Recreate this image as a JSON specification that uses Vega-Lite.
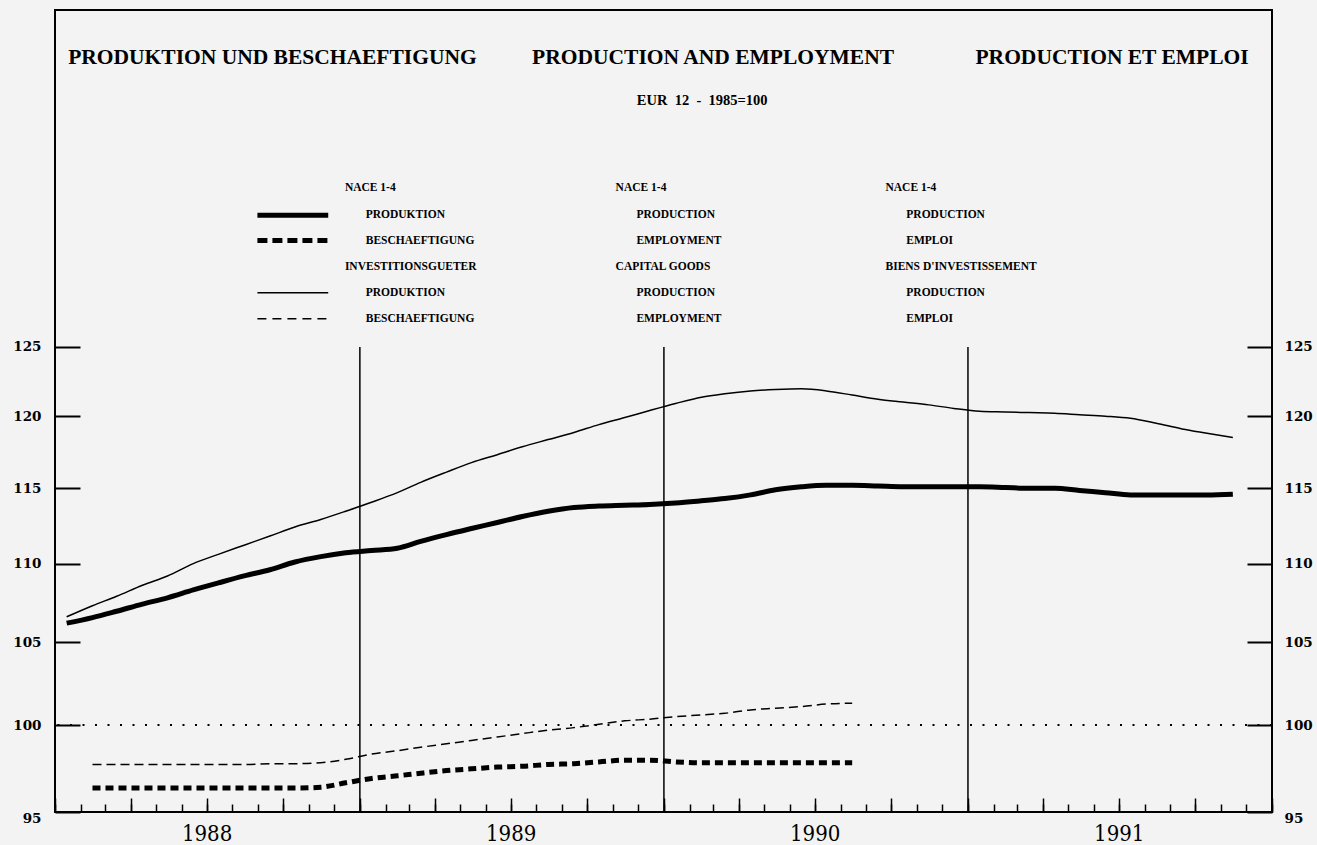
{
  "$schema": "https://vega.github.io/schema/vega-lite/v6.json",
  "autosize": {"type": "none"},
  "padding": {"left": 55, "top": 10, "right": 45, "bottom": 33},
  "width": 1217,
  "height": 802,
  "background": "#f3f3f3",
  "config": {
    "font": "Liberation Serif",
    "view": {"stroke": "black", "strokeWidth": 2},
    "axis": {"domain": false, "grid": false, "tickColor": "black", "labelColor": "black", "title": null}
  },
  "datasets": {
    "series": [
      {"date": "1988-01-15", "series": "P1", "value": 106.2},
      {"date": "1988-02-15", "series": "P1", "value": 106.55},
      {"date": "1988-03-15", "series": "P1", "value": 106.95},
      {"date": "1988-04-15", "series": "P1", "value": 107.4},
      {"date": "1988-05-15", "series": "P1", "value": 107.8},
      {"date": "1988-06-15", "series": "P1", "value": 108.3},
      {"date": "1988-07-15", "series": "P1", "value": 108.75},
      {"date": "1988-08-15", "series": "P1", "value": 109.2},
      {"date": "1988-09-15", "series": "P1", "value": 109.6},
      {"date": "1988-10-15", "series": "P1", "value": 110.1},
      {"date": "1988-11-15", "series": "P1", "value": 110.45},
      {"date": "1988-12-15", "series": "P1", "value": 110.7},
      {"date": "1989-01-15", "series": "P1", "value": 110.85},
      {"date": "1989-02-15", "series": "P1", "value": 111.0},
      {"date": "1989-03-15", "series": "P1", "value": 111.45},
      {"date": "1989-04-15", "series": "P1", "value": 111.9},
      {"date": "1989-05-15", "series": "P1", "value": 112.3},
      {"date": "1989-06-15", "series": "P1", "value": 112.7},
      {"date": "1989-07-15", "series": "P1", "value": 113.1},
      {"date": "1989-08-15", "series": "P1", "value": 113.45},
      {"date": "1989-09-15", "series": "P1", "value": 113.7},
      {"date": "1989-10-15", "series": "P1", "value": 113.8},
      {"date": "1989-11-15", "series": "P1", "value": 113.85},
      {"date": "1989-12-15", "series": "P1", "value": 113.9},
      {"date": "1990-01-15", "series": "P1", "value": 114.0},
      {"date": "1990-02-15", "series": "P1", "value": 114.15},
      {"date": "1990-03-15", "series": "P1", "value": 114.3},
      {"date": "1990-04-15", "series": "P1", "value": 114.55},
      {"date": "1990-05-15", "series": "P1", "value": 114.9},
      {"date": "1990-06-15", "series": "P1", "value": 115.1},
      {"date": "1990-07-15", "series": "P1", "value": 115.2},
      {"date": "1990-08-15", "series": "P1", "value": 115.2},
      {"date": "1990-09-15", "series": "P1", "value": 115.15},
      {"date": "1990-10-15", "series": "P1", "value": 115.1},
      {"date": "1990-11-15", "series": "P1", "value": 115.1},
      {"date": "1990-12-15", "series": "P1", "value": 115.1},
      {"date": "1991-01-15", "series": "P1", "value": 115.1},
      {"date": "1991-02-15", "series": "P1", "value": 115.05},
      {"date": "1991-03-15", "series": "P1", "value": 115.0},
      {"date": "1991-04-15", "series": "P1", "value": 115.0},
      {"date": "1991-05-15", "series": "P1", "value": 114.85},
      {"date": "1991-06-15", "series": "P1", "value": 114.7},
      {"date": "1991-07-15", "series": "P1", "value": 114.55},
      {"date": "1991-08-15", "series": "P1", "value": 114.55},
      {"date": "1991-09-15", "series": "P1", "value": 114.55},
      {"date": "1991-10-15", "series": "P1", "value": 114.55},
      {"date": "1991-11-15", "series": "P1", "value": 114.6},
      {"date": "1988-01-15", "series": "P2", "value": 106.6},
      {"date": "1988-02-15", "series": "P2", "value": 107.3},
      {"date": "1988-03-15", "series": "P2", "value": 107.9},
      {"date": "1988-04-15", "series": "P2", "value": 108.6},
      {"date": "1988-05-15", "series": "P2", "value": 109.2},
      {"date": "1988-06-15", "series": "P2", "value": 110.0},
      {"date": "1988-07-15", "series": "P2", "value": 110.6},
      {"date": "1988-08-15", "series": "P2", "value": 111.2},
      {"date": "1988-09-15", "series": "P2", "value": 111.8},
      {"date": "1988-10-15", "series": "P2", "value": 112.4},
      {"date": "1988-11-15", "series": "P2", "value": 112.9},
      {"date": "1988-12-15", "series": "P2", "value": 113.45},
      {"date": "1989-01-15", "series": "P2", "value": 114.05},
      {"date": "1989-02-15", "series": "P2", "value": 114.7},
      {"date": "1989-03-15", "series": "P2", "value": 115.4},
      {"date": "1989-04-15", "series": "P2", "value": 116.1},
      {"date": "1989-05-15", "series": "P2", "value": 116.75},
      {"date": "1989-06-15", "series": "P2", "value": 117.3},
      {"date": "1989-07-15", "series": "P2", "value": 117.85},
      {"date": "1989-08-15", "series": "P2", "value": 118.35},
      {"date": "1989-09-15", "series": "P2", "value": 118.85},
      {"date": "1989-10-15", "series": "P2", "value": 119.4},
      {"date": "1989-11-15", "series": "P2", "value": 119.9},
      {"date": "1989-12-15", "series": "P2", "value": 120.4},
      {"date": "1990-01-15", "series": "P2", "value": 120.9},
      {"date": "1990-02-15", "series": "P2", "value": 121.35},
      {"date": "1990-03-15", "series": "P2", "value": 121.6},
      {"date": "1990-04-15", "series": "P2", "value": 121.8},
      {"date": "1990-05-15", "series": "P2", "value": 121.9},
      {"date": "1990-06-15", "series": "P2", "value": 121.95},
      {"date": "1990-07-15", "series": "P2", "value": 121.8},
      {"date": "1990-08-15", "series": "P2", "value": 121.5},
      {"date": "1990-09-15", "series": "P2", "value": 121.2},
      {"date": "1990-10-15", "series": "P2", "value": 121.0},
      {"date": "1990-11-15", "series": "P2", "value": 120.8},
      {"date": "1990-12-15", "series": "P2", "value": 120.55},
      {"date": "1991-01-15", "series": "P2", "value": 120.35},
      {"date": "1991-02-15", "series": "P2", "value": 120.3},
      {"date": "1991-03-15", "series": "P2", "value": 120.25},
      {"date": "1991-04-15", "series": "P2", "value": 120.2},
      {"date": "1991-05-15", "series": "P2", "value": 120.1},
      {"date": "1991-06-15", "series": "P2", "value": 120.0},
      {"date": "1991-07-15", "series": "P2", "value": 119.85},
      {"date": "1991-08-15", "series": "P2", "value": 119.5},
      {"date": "1991-09-15", "series": "P2", "value": 119.1},
      {"date": "1991-10-15", "series": "P2", "value": 118.8},
      {"date": "1991-11-15", "series": "P2", "value": 118.5},
      {"date": "1988-02-15", "series": "E1", "value": 96.35},
      {"date": "1988-03-15", "series": "E1", "value": 96.35},
      {"date": "1988-04-15", "series": "E1", "value": 96.35},
      {"date": "1988-05-15", "series": "E1", "value": 96.35},
      {"date": "1988-06-15", "series": "E1", "value": 96.35},
      {"date": "1988-07-15", "series": "E1", "value": 96.35},
      {"date": "1988-08-15", "series": "E1", "value": 96.35},
      {"date": "1988-09-15", "series": "E1", "value": 96.35},
      {"date": "1988-10-15", "series": "E1", "value": 96.35},
      {"date": "1988-11-15", "series": "E1", "value": 96.4},
      {"date": "1988-12-15", "series": "E1", "value": 96.65},
      {"date": "1989-01-15", "series": "E1", "value": 96.9},
      {"date": "1989-02-15", "series": "E1", "value": 97.05},
      {"date": "1989-03-15", "series": "E1", "value": 97.2},
      {"date": "1989-04-15", "series": "E1", "value": 97.35},
      {"date": "1989-05-15", "series": "E1", "value": 97.45},
      {"date": "1989-06-15", "series": "E1", "value": 97.55},
      {"date": "1989-07-15", "series": "E1", "value": 97.6},
      {"date": "1989-08-15", "series": "E1", "value": 97.7},
      {"date": "1989-09-15", "series": "E1", "value": 97.75},
      {"date": "1989-10-15", "series": "E1", "value": 97.85},
      {"date": "1989-11-15", "series": "E1", "value": 97.95},
      {"date": "1989-12-15", "series": "E1", "value": 97.95},
      {"date": "1990-01-15", "series": "E1", "value": 97.85},
      {"date": "1990-02-15", "series": "E1", "value": 97.8},
      {"date": "1990-03-15", "series": "E1", "value": 97.8},
      {"date": "1990-04-15", "series": "E1", "value": 97.8},
      {"date": "1990-05-15", "series": "E1", "value": 97.8},
      {"date": "1990-06-15", "series": "E1", "value": 97.8},
      {"date": "1990-07-15", "series": "E1", "value": 97.8},
      {"date": "1990-08-15", "series": "E1", "value": 97.8},
      {"date": "1988-02-15", "series": "E2", "value": 97.7},
      {"date": "1988-03-15", "series": "E2", "value": 97.7},
      {"date": "1988-04-15", "series": "E2", "value": 97.7},
      {"date": "1988-05-15", "series": "E2", "value": 97.7},
      {"date": "1988-06-15", "series": "E2", "value": 97.7},
      {"date": "1988-07-15", "series": "E2", "value": 97.7},
      {"date": "1988-08-15", "series": "E2", "value": 97.7},
      {"date": "1988-09-15", "series": "E2", "value": 97.75},
      {"date": "1988-10-15", "series": "E2", "value": 97.75},
      {"date": "1988-11-15", "series": "E2", "value": 97.8},
      {"date": "1988-12-15", "series": "E2", "value": 98.0},
      {"date": "1989-01-15", "series": "E2", "value": 98.3},
      {"date": "1989-02-15", "series": "E2", "value": 98.5},
      {"date": "1989-03-15", "series": "E2", "value": 98.7},
      {"date": "1989-04-15", "series": "E2", "value": 98.9},
      {"date": "1989-05-15", "series": "E2", "value": 99.1},
      {"date": "1989-06-15", "series": "E2", "value": 99.3},
      {"date": "1989-07-15", "series": "E2", "value": 99.5},
      {"date": "1989-08-15", "series": "E2", "value": 99.7},
      {"date": "1989-09-15", "series": "E2", "value": 99.85},
      {"date": "1989-10-15", "series": "E2", "value": 100.05},
      {"date": "1989-11-15", "series": "E2", "value": 100.25},
      {"date": "1989-12-15", "series": "E2", "value": 100.35},
      {"date": "1990-01-15", "series": "E2", "value": 100.5},
      {"date": "1990-02-15", "series": "E2", "value": 100.6},
      {"date": "1990-03-15", "series": "E2", "value": 100.7},
      {"date": "1990-04-15", "series": "E2", "value": 100.9},
      {"date": "1990-05-15", "series": "E2", "value": 101.0},
      {"date": "1990-06-15", "series": "E2", "value": 101.1},
      {"date": "1990-07-15", "series": "E2", "value": 101.25},
      {"date": "1990-08-15", "series": "E2", "value": 101.3}
    ],
    "years": [
      {"date": "1989-01-01"},
      {"date": "1990-01-01"},
      {"date": "1991-01-01"}
    ],
    "reference": [
      {"value": 100}
    ],
    "titles": [
      {"date": "1988-09-18", "value": 148.26, "text": "PRODUKTION UND BESCHAEFTIGUNG"},
      {"date": "1990-03-01", "value": 148.26, "text": "PRODUCTION AND EMPLOYMENT"},
      {"date": "1991-06-23", "value": 148.26, "text": "PRODUCTION ET EMPLOI"}
    ],
    "subtitle": [
      {"date": "1990-02-16", "value": 144.5, "text": "EUR\u00a0\u00a012\u00a0\u00a0-\u00a0\u00a01985=100"}
    ],
    "legendText": [
      {"date": "1988-12-14", "value": 137.3, "text": "NACE 1-4"},
      {"date": "1989-01-08", "value": 135.1, "text": "PRODUKTION"},
      {"date": "1989-01-08", "value": 133.1, "text": "BESCHAEFTIGUNG"},
      {"date": "1988-12-14", "value": 131.05, "text": "INVESTITIONSGUETER"},
      {"date": "1989-01-08", "value": 129.06, "text": "PRODUKTION"},
      {"date": "1989-01-08", "value": 127.1, "text": "BESCHAEFTIGUNG"},
      {"date": "1989-11-04", "value": 137.3, "text": "NACE 1-4"},
      {"date": "1989-11-29", "value": 135.1, "text": "PRODUCTION"},
      {"date": "1989-11-29", "value": 133.1, "text": "EMPLOYMENT"},
      {"date": "1989-11-04", "value": 131.05, "text": "CAPITAL GOODS"},
      {"date": "1989-11-29", "value": 129.06, "text": "PRODUCTION"},
      {"date": "1989-11-29", "value": 127.1, "text": "EMPLOYMENT"},
      {"date": "1990-09-24", "value": 137.3, "text": "NACE 1-4"},
      {"date": "1990-10-19", "value": 135.1, "text": "PRODUCTION"},
      {"date": "1990-10-19", "value": 133.1, "text": "EMPLOI"},
      {"date": "1990-09-24", "value": 131.05, "text": "BIENS D'INVESTISSEMENT"},
      {"date": "1990-10-19", "value": 129.06, "text": "PRODUCTION"},
      {"date": "1990-10-19", "value": 127.1, "text": "EMPLOI"}
    ],
    "legendLines": [
      {"start": "1988-08-31", "end": "1988-11-24", "value": 135.1, "series": "P1"},
      {"start": "1988-08-31", "end": "1988-11-24", "value": 133.1, "series": "E1"},
      {"start": "1988-08-31", "end": "1988-11-24", "value": 129.06, "series": "P2"},
      {"start": "1988-08-31", "end": "1988-11-24", "value": 127.1, "series": "E2"}
    ]
  },
  "resolve": {"axis": {"x": "independent", "y": "independent"}},
  "layer": [
    {
      "data": {"name": "series"},
      "transform": [{"filter": "datum.series == 'P1'"}],
      "mark": {"type": "line", "color": "black", "strokeWidth": 5, "interpolate": "monotone"},
      "encoding": {
        "x": {"field": "date", "type": "temporal", "title": null,
          "scale": {"type": "utc", "domain": [{"year": 1988, "month": 1, "date": 1, "utc": true}, {"year": 1992, "month": 1, "date": 1, "utc": true}]},
          "axis": {
            "orient": "bottom",
            "tickCount": {"interval": "month", "step": 1},
            "tickSize": -8,
            "tickWidth": 1.5,
            "labelExpr": "utcmonth(datum.value) == 6 ? utcyear(datum.value) + '' : ''",
            "labelOverlap": false,
            "labelBound": false,
            "labelFlush": false,
            "labelFont": "DejaVu Serif Condensed",
            "labelFontSize": 22,
            "labelPadding": 19
          }
        },
        "y": {"field": "value", "type": "quantitative", "title": null,
          "scale": {"type": "log", "domain": [95, 152.5], "nice": false},
          "axis": {
            "orient": "left",
            "values": [95, 100, 105, 110, 115, 120, 125],
            "tickSize": -25,
            "tickWidth": 2,
            "labelFont": "DejaVu Serif",
            "labelFontWeight": "bold",
            "labelFontSize": 13.5,
            "labelPadding": 39,
            "labelOffset": {"condition": {"test": "datum.value == 95", "value": 6}, "value": 0}
          }
        }
      }
    },
    {
      "data": {"name": "series"},
      "transform": [{"filter": "datum.series == 'P2'"}],
      "mark": {"type": "line", "color": "black", "strokeWidth": 1.5, "interpolate": "monotone"},
      "encoding": {
        "x": {"field": "date", "type": "temporal", "title": null,
          "scale": {"type": "utc", "domain": [{"year": 1988, "month": 1, "date": 1, "utc": true}, {"year": 1992, "month": 1, "date": 1, "utc": true}]},
          "axis": {
            "orient": "bottom",
            "tickCount": {"interval": "month", "step": 3},
            "tickSize": -14,
            "tickWidth": 1.5,
            "labels": false
          }
        },
        "y": {"field": "value", "type": "quantitative", "title": null,
          "scale": {"type": "log", "domain": [95, 152.5], "nice": false},
          "axis": {
            "orient": "right",
            "values": [95, 100, 105, 110, 115, 120, 125],
            "tickSize": -25,
            "tickWidth": 2,
            "labelFont": "DejaVu Serif",
            "labelFontWeight": "bold",
            "labelFontSize": 13.5,
            "labelPadding": 37,
            "labelOffset": {"condition": {"test": "datum.value == 95", "value": 6}, "value": 0}
          }
        }
      }
    },
    {
      "data": {"name": "series"},
      "transform": [{"filter": "datum.series == 'E1'"}],
      "mark": {"type": "line", "color": "black", "strokeWidth": 5, "strokeDash": [8, 5], "strokeCap": "butt", "interpolate": "monotone"},
      "encoding": {
        "x": {"field": "date", "type": "temporal", "title": null, "axis": null,
          "scale": {"type": "utc", "domain": [{"year": 1988, "month": 1, "date": 1, "utc": true}, {"year": 1992, "month": 1, "date": 1, "utc": true}]}},
        "y": {"field": "value", "type": "quantitative", "title": null, "axis": null,
          "scale": {"type": "log", "domain": [95, 152.5], "nice": false}}
      }
    },
    {
      "data": {"name": "series"},
      "transform": [{"filter": "datum.series == 'E2'"}],
      "mark": {"type": "line", "color": "black", "strokeWidth": 1.5, "strokeDash": [9, 5], "interpolate": "monotone"},
      "encoding": {
        "x": {"field": "date", "type": "temporal", "title": null, "axis": null,
          "scale": {"type": "utc", "domain": [{"year": 1988, "month": 1, "date": 1, "utc": true}, {"year": 1992, "month": 1, "date": 1, "utc": true}]}},
        "y": {"field": "value", "type": "quantitative", "title": null, "axis": null,
          "scale": {"type": "log", "domain": [95, 152.5], "nice": false}}
      }
    },
    {
      "data": {"name": "reference"},
      "mark": {"type": "rule", "color": "black", "strokeWidth": 2, "strokeDash": [2, 10.5]},
      "encoding": {
        "y": {"field": "value", "type": "quantitative", "axis": null, "title": null,
          "scale": {"type": "log", "domain": [95, 152.5], "nice": false}}
      }
    },
    {
      "data": {"name": "years"},
      "mark": {"type": "rule", "color": "black", "strokeWidth": 1.5},
      "encoding": {
        "x": {"field": "date", "type": "temporal", "title": null, "axis": null,
          "scale": {"type": "utc", "domain": [{"year": 1988, "month": 1, "date": 1, "utc": true}, {"year": 1992, "month": 1, "date": 1, "utc": true}]}},
        "y": {"datum": 95, "type": "quantitative", "axis": null, "title": null,
          "scale": {"type": "log", "domain": [95, 152.5], "nice": false}},
        "y2": {"datum": 125}
      }
    },
    {
      "data": {"name": "legendLines"},
      "transform": [{"filter": "datum.series == 'P1'"}],
      "mark": {"type": "rule", "color": "black", "strokeWidth": 5},
      "encoding": {
        "x": {"field": "start", "type": "temporal", "title": null, "axis": null,
          "scale": {"type": "utc", "domain": [{"year": 1988, "month": 1, "date": 1, "utc": true}, {"year": 1992, "month": 1, "date": 1, "utc": true}]}},
        "x2": {"field": "end"},
        "y": {"field": "value", "type": "quantitative", "axis": null, "title": null,
          "scale": {"type": "log", "domain": [95, 152.5], "nice": false}}
      }
    },
    {
      "data": {"name": "legendLines"},
      "transform": [{"filter": "datum.series == 'E1'"}],
      "mark": {"type": "rule", "color": "black", "strokeWidth": 5, "strokeDash": [10, 5]},
      "encoding": {
        "x": {"field": "start", "type": "temporal", "title": null, "axis": null,
          "scale": {"type": "utc", "domain": [{"year": 1988, "month": 1, "date": 1, "utc": true}, {"year": 1992, "month": 1, "date": 1, "utc": true}]}},
        "x2": {"field": "end"},
        "y": {"field": "value", "type": "quantitative", "axis": null, "title": null,
          "scale": {"type": "log", "domain": [95, 152.5], "nice": false}}
      }
    },
    {
      "data": {"name": "legendLines"},
      "transform": [{"filter": "datum.series == 'P2'"}],
      "mark": {"type": "rule", "color": "black", "strokeWidth": 1.5},
      "encoding": {
        "x": {"field": "start", "type": "temporal", "title": null, "axis": null,
          "scale": {"type": "utc", "domain": [{"year": 1988, "month": 1, "date": 1, "utc": true}, {"year": 1992, "month": 1, "date": 1, "utc": true}]}},
        "x2": {"field": "end"},
        "y": {"field": "value", "type": "quantitative", "axis": null, "title": null,
          "scale": {"type": "log", "domain": [95, 152.5], "nice": false}}
      }
    },
    {
      "data": {"name": "legendLines"},
      "transform": [{"filter": "datum.series == 'E2'"}],
      "mark": {"type": "rule", "color": "black", "strokeWidth": 1.5, "strokeDash": [9, 6]},
      "encoding": {
        "x": {"field": "start", "type": "temporal", "title": null, "axis": null,
          "scale": {"type": "utc", "domain": [{"year": 1988, "month": 1, "date": 1, "utc": true}, {"year": 1992, "month": 1, "date": 1, "utc": true}]}},
        "x2": {"field": "end"},
        "y": {"field": "value", "type": "quantitative", "axis": null, "title": null,
          "scale": {"type": "log", "domain": [95, 152.5], "nice": false}}
      }
    },
    {
      "data": {"name": "titles"},
      "mark": {"type": "text", "align": "center", "baseline": "middle", "font": "Liberation Serif", "fontWeight": "bold", "fontSize": 21.5, "color": "black"},
      "encoding": {
        "x": {"field": "date", "type": "temporal", "title": null, "axis": null,
          "scale": {"type": "utc", "domain": [{"year": 1988, "month": 1, "date": 1, "utc": true}, {"year": 1992, "month": 1, "date": 1, "utc": true}]}},
        "y": {"field": "value", "type": "quantitative", "axis": null, "title": null,
          "scale": {"type": "log", "domain": [95, 152.5], "nice": false}},
        "text": {"field": "text"}
      }
    },
    {
      "data": {"name": "subtitle"},
      "mark": {"type": "text", "align": "center", "baseline": "middle", "font": "Liberation Serif", "fontWeight": "bold", "fontSize": 14.5, "color": "black"},
      "encoding": {
        "x": {"field": "date", "type": "temporal", "title": null, "axis": null,
          "scale": {"type": "utc", "domain": [{"year": 1988, "month": 1, "date": 1, "utc": true}, {"year": 1992, "month": 1, "date": 1, "utc": true}]}},
        "y": {"field": "value", "type": "quantitative", "axis": null, "title": null,
          "scale": {"type": "log", "domain": [95, 152.5], "nice": false}},
        "text": {"field": "text"}
      }
    },
    {
      "data": {"name": "legendText"},
      "mark": {"type": "text", "align": "left", "baseline": "middle", "font": "Liberation Serif", "fontWeight": "bold", "fontSize": 11.5, "color": "black"},
      "encoding": {
        "x": {"field": "date", "type": "temporal", "title": null, "axis": null,
          "scale": {"type": "utc", "domain": [{"year": 1988, "month": 1, "date": 1, "utc": true}, {"year": 1992, "month": 1, "date": 1, "utc": true}]}},
        "y": {"field": "value", "type": "quantitative", "axis": null, "title": null,
          "scale": {"type": "log", "domain": [95, 152.5], "nice": false}},
        "text": {"field": "text"}
      }
    }
  ]
}
